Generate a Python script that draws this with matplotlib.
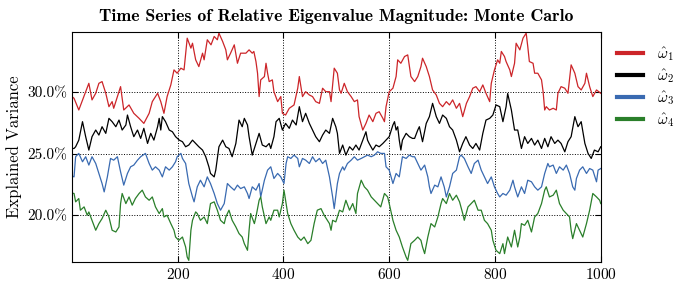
import numpy as np
import matplotlib
matplotlib.use('Agg')
import matplotlib.pyplot as plt
from matplotlib.ticker import FuncFormatter

plt.rcParams['font.family'] = ['cmr10', 'DejaVu Serif']
plt.rcParams['mathtext.fontset'] = 'cm'
plt.rcParams['axes.unicode_minus'] = False
plt.rcParams['axes.formatter.use_mathtext'] = True

# values (step, explained variance in percent)
t1 = [0, 4, 13, 32, 38, 45, 51, 57, 61, 64, 70, 76, 79, 86, 92, 98, 108, 117, 127, 136, 146, 152, 162,
      168, 174, 180, 187, 193, 199, 206, 212, 218, 225, 228, 234, 240, 247, 250, 256, 263, 269, 275, 278,
      285, 291, 294, 300, 307, 313, 319, 329, 335, 341, 344, 348, 351, 354, 357, 364, 367, 370, 373, 379,
      382, 389, 395, 398, 404, 411, 420, 427, 430, 436, 442, 449, 455, 461, 468, 474, 480, 487, 490, 496,
      502, 506, 509, 515, 521, 528, 534, 540, 543, 550, 556, 562, 569, 575, 581, 588, 591, 594, 600, 607,
      613, 616, 622, 629, 635, 641, 648, 654, 660, 663, 670, 676, 682, 689, 695, 701, 708, 714, 720, 727,
      733, 739, 746, 752, 758, 764, 771, 777, 783, 790, 793, 799, 805, 809, 812, 818, 821, 828, 831, 837,
      840, 847, 853, 859, 862, 865, 872, 875, 881, 888, 891, 894, 897, 903, 910, 916, 919, 925, 932, 938,
      944, 951, 957, 963, 970, 973, 979, 985, 992, 1000]
w1 = [29.65, 29.51, 28.56, 30.73, 29.38, 29.92, 30.73, 30.87, 30.33, 29.92, 28.83, 29.24, 28.70, 29.65,
      30.46, 28.56, 28.97, 28.29, 27.88, 27.47, 28.29, 29.24, 29.92,
      29.24, 28.29, 29.65, 30.60, 31.82, 31.55, 31.96, 31.82, 34.40, 33.59, 33.99, 32.64, 32.09, 33.18,
      32.64, 34.27, 33.86, 34.54, 34.27, 34.81, 34.13, 33.45, 32.64, 33.18, 33.86, 32.36, 33.18,
      33.18, 33.45, 33.18, 33.32, 32.50, 31.55, 29.65, 31.01, 31.28, 32.36, 31.55, 30.87, 31.01, 30.05,
      29.24, 29.65, 28.29, 28.15, 28.70, 28.97, 30.33, 31.28, 29.65, 30.05, 29.78, 29.65, 29.24, 29.10,
      30.33, 30.05,
      30.05, 29.24, 31.96, 31.55, 30.19, 29.92, 30.73, 30.05, 29.65, 29.24, 29.38, 28.02, 26.93, 27.47,
      28.15, 27.61, 28.29, 28.42, 27.88, 27.61, 28.83, 30.05, 30.33, 31.28, 32.64, 32.36, 32.91, 33.04,
      31.28,
      30.87, 31.28, 32.09, 32.77, 32.09, 31.28, 30.19, 29.78, 29.10, 28.83, 29.24, 28.97, 29.38, 28.70,
      29.10, 28.02, 29.10, 29.65, 30.33, 30.46, 30.05, 30.60, 29.92, 29.24, 30.73, 31.82, 32.64,
      32.36, 33.32, 32.91, 32.50, 31.82, 31.28, 32.36, 33.99, 33.45, 34.40, 34.81, 33.72, 32.50, 32.36,
      31.55, 31.55, 31.01, 30.05, 28.56, 28.83, 28.56, 28.70, 28.56, 29.92, 30.46, 30.33, 29.92, 32.23,
      31.55, 30.46, 30.19, 30.73, 31.55, 30.46, 29.65, 30.19, 29.92]

t2 = [0, 4, 7, 13, 20, 26, 32, 38, 45, 51, 57, 64, 70, 76, 83, 89, 95, 102, 105, 111, 117, 124, 130, 136,
      143, 149, 155, 162, 165, 168, 171, 177, 184, 190, 196, 203, 209, 215, 221, 228, 234, 240, 247, 253,
      259, 262, 269, 272, 278, 285, 291, 297, 303, 310, 316, 322, 326, 332, 335, 341, 348, 354, 360, 367,
      373, 376, 382, 386, 392, 398, 404, 411, 417, 424, 430, 436, 442, 449, 455, 461, 468, 474, 480, 487,
      493, 499, 502, 506, 512, 518, 525, 531, 537, 543, 550, 556, 559, 562, 569, 575, 581, 588, 594, 600,
      607, 610, 613, 616, 619, 622, 625, 632, 638, 644, 648, 654, 657, 663, 670, 676, 682, 689, 695, 701,
      708, 714, 720, 727, 733, 739, 745, 752, 758, 764, 771, 777, 783, 790, 796, 802, 809, 815, 821, 824,
      831, 837, 843, 850, 856, 862, 869, 875, 881, 888, 894, 900, 906, 913, 919, 925, 932, 938, 944, 951,
      957, 963, 970, 976, 982, 988, 995, 1000]
w2 = [25.43, 25.43, 25.57, 26.11, 27.61, 26.39, 25.30, 26.39, 26.93, 26.52, 27.20, 26.66, 27.88, 27.61,
      27.20, 27.74, 26.93, 27.34, 28.15, 27.20, 26.39, 26.93, 26.25, 27.07, 25.84, 26.66, 26.11, 27.20,
      27.88, 26.93, 28.02, 27.61, 26.93, 26.79, 26.39, 26.11, 25.98, 25.57, 25.71, 26.11, 25.84, 25.57,
      25.30, 24.76, 23.94, 23.40, 23.12, 23.67, 25.57, 26.11, 25.57, 25.43, 24.76, 25.84, 27.74, 27.20,
      27.88, 27.34, 26.39, 24.89, 25.84, 26.66, 25.71, 25.57, 25.84, 25.43, 26.39, 27.61, 27.88, 26.93,
      27.47, 27.07, 27.74, 27.34, 28.83, 27.61, 28.29, 27.47, 26.93, 26.39, 25.98, 26.52, 26.93,
      26.66, 27.88, 27.20, 26.66, 25.03, 25.71, 24.89, 25.57, 25.30, 25.71, 25.30, 26.11, 26.79, 26.11,
      25.84, 25.30, 25.71, 25.57, 25.84, 26.11, 26.39, 27.34, 27.61, 26.93, 27.20, 26.11, 25.30, 26.11,
      26.66, 26.39, 26.25,
      26.25, 26.93, 27.20, 25.98, 27.47, 28.02, 29.10, 28.02, 27.47, 28.15, 27.88, 27.20, 26.93, 26.11,
      25.16, 25.84, 26.39, 25.71, 25.43, 25.84, 25.30, 26.66, 27.74, 27.88, 28.15, 28.97, 28.83,
      27.61, 28.83, 29.90, 28.56, 26.93, 26.93, 25.43, 26.39, 25.84, 26.25, 25.71, 26.11, 25.43, 26.25,
      25.57, 26.39, 25.84, 26.11, 25.84, 25.16, 25.98, 26.39, 28.02, 27.20, 27.61, 25.84, 25.03, 24.62,
      25.30, 25.16, 25.57]

t3 = [0, 4, 7, 13, 20, 26, 32, 38, 45, 51, 57, 61, 67, 73, 79, 86, 92, 98, 105, 111, 117, 124, 130, 139,
      146, 152, 158, 165, 171, 177, 184, 190, 196, 199, 206, 209, 215, 221, 228, 231, 237, 243, 250, 256,
      262, 269, 275, 281, 288, 294, 300, 307, 313, 319, 326, 332, 335, 341, 348, 354, 357, 364, 370, 376,
      382, 389, 395, 401, 405, 408, 414, 420, 427, 430, 436, 442, 449, 455, 461, 468, 474, 480, 487, 490,
      493, 496, 502, 506, 512, 515, 521, 528, 534, 540, 547, 553, 559, 566, 572, 578, 584, 591, 594, 600,
      607, 613, 619, 625, 632, 638, 644, 648, 654, 660, 667, 673, 676, 679, 686, 692, 698, 704, 708, 714,
      720, 727, 733, 736, 742, 749, 755, 761, 768, 774, 780, 786, 793, 799, 805, 809, 815, 821, 828, 834,
      837, 843, 850, 856, 862, 869, 875, 881, 888, 894, 900, 903, 910, 916, 922, 929, 935, 941, 947, 951,
      954, 960, 966, 973, 979, 985, 992, 995, 1000]
w3 = [23.20, 23.12, 24.76, 25.03, 24.35, 24.76, 24.08, 24.76, 24.21, 23.40, 22.58, 21.90, 23.12, 24.62,
      24.48, 24.76, 23.53, 22.45, 23.40, 23.94, 24.08, 24.48, 24.76, 25.03, 24.21, 23.67, 23.94,
      23.67, 23.12, 23.94, 23.67, 23.94, 24.35, 24.76, 25.03, 24.62, 24.21, 22.58, 21.49, 21.09, 22.31,
      22.85, 22.31, 23.12, 22.58, 21.77, 20.95, 20.41, 20.95, 22.58, 22.31, 22.04, 22.45, 22.17, 22.31,
      21.77, 21.36, 22.31, 22.04, 22.58, 21.49, 22.85, 23.67, 23.94, 22.99, 23.40, 23.12, 22.58, 24.21,
      24.76, 24.62, 24.89, 24.62, 23.94, 24.62, 24.48, 24.21, 24.76, 24.35, 24.62, 24.21, 24.48, 23.12,
      22.31, 21.49, 20.54, 22.58, 23.40, 23.94, 23.67, 24.21, 24.48, 24.76, 24.48, 24.62, 24.76, 24.89,
      24.76, 24.89, 25.16, 25.03, 25.03, 23.94, 23.67, 22.58, 23.40, 23.12, 24.76, 24.62, 24.89, 24.76,
      24.76, 24.21, 23.67, 24.08, 23.12, 22.31, 21.77, 22.45, 22.31, 23.12, 22.31, 21.49, 22.31, 23.40,
      23.67, 24.76, 24.89, 24.62, 23.94, 23.40, 24.21, 24.48, 23.67, 23.12, 22.58, 23.12, 22.31, 21.77,
      21.49, 21.77, 21.63, 22.04, 22.85, 22.31, 21.49, 22.31, 21.77, 22.85, 22.72, 22.31, 22.04, 22.31,
      23.40, 24.21, 23.94, 24.08, 23.40, 23.94, 23.67, 24.08, 23.40, 22.31, 22.04, 22.99, 23.67, 23.94,
      23.40, 23.80, 23.67, 22.72, 23.67, 23.80]

t4 = [0, 4, 7, 13, 16, 23, 29, 32, 38, 45, 51, 57, 64, 70, 76, 83, 89, 92, 95, 102, 108, 114, 120, 127,
      133, 139, 146, 152, 158, 165, 171, 174, 180, 187, 193, 196, 202, 209, 215, 218, 221, 225, 228, 234,
      237, 243, 250, 256, 262, 269, 275, 281, 288, 291, 297, 303, 310, 316, 322, 326, 332, 335, 338, 345,
      348, 354, 357, 360, 367, 373, 376, 382, 389, 392, 398, 401, 408, 414, 420, 427, 433, 439, 446, 452,
      458, 464, 471, 477, 483, 487, 490, 493, 499, 506, 512, 518, 525, 531, 537, 540, 547, 553, 559, 566,
      572, 578, 584, 591, 597, 600, 607, 613, 619, 625, 632, 635, 641, 648, 654, 660, 663, 667, 673, 679,
      686, 692, 698, 701, 708, 714, 720, 727, 733, 739, 742, 749, 755, 761, 768, 774, 780, 786, 793, 796,
      802, 809, 815, 818, 824, 831, 837, 843, 847, 850, 856, 862, 869, 875, 881, 888, 894, 897, 903, 910,
      916, 922, 929, 935, 941, 944, 947, 954, 960, 966, 973, 979, 985, 992, 998, 1000]
w4 = [21.80, 21.77, 21.09, 21.36, 20.41, 20.68, 20.00, 20.27, 19.59, 18.78, 19.32, 19.73, 20.41, 19.86,
      18.78, 18.64, 19.05, 20.95, 21.77, 20.95, 21.49, 20.82, 21.36, 21.77, 22.04, 21.49, 21.22, 21.49,
      20.68, 20.14, 20.54, 19.86, 20.00, 19.32, 18.78, 18.23, 17.96, 18.23, 17.42, 16.60, 16.33, 18.78,
      19.59, 20.27, 20.14, 19.59, 19.86, 19.32, 20.95, 21.09, 20.41, 19.59, 19.32, 19.86, 20.41, 19.59,
      19.05, 18.51, 18.23, 17.69, 17.15, 18.78, 20.14, 19.32, 19.86, 21.22, 21.49, 20.68, 19.32, 19.86,
      19.59, 20.41, 20.41, 19.86, 20.95, 22.04, 20.14, 19.32, 18.78, 18.23, 17.96, 18.23, 17.69, 17.96,
      19.32, 20.41, 20.54, 20.00, 19.59, 19.32, 18.78, 19.59, 19.46, 20.41, 20.27, 21.22, 20.41, 20.95,
      20.14, 21.77, 22.85, 22.31, 22.04, 21.49, 21.22, 20.95, 20.68, 21.77, 21.49, 20.95, 19.59, 18.78,
      18.23, 17.42, 16.60, 16.33, 17.69, 17.96, 18.23, 17.96, 17.42, 16.88, 18.23, 19.32, 19.05, 19.86,
      20.95, 21.36, 20.95, 21.77, 21.22, 21.63, 21.09, 20.14, 19.59, 20.68, 20.95, 21.22, 20.41, 20.41,
      19.59, 19.32, 18.78, 17.96, 17.15, 16.88, 17.69, 16.88, 18.23, 17.42, 18.78, 17.42, 18.23, 19.32,
      19.18, 19.59, 18.64, 19.86, 20.14, 20.95, 22.04, 22.31, 21.49, 21.63, 22.04, 20.95, 20.41, 20.14,
      19.86, 18.78, 18.10, 19.32, 18.78, 18.23, 19.32, 20.41, 21.77, 21.49, 21.22, 20.95]

labels = [r'$\hat{\omega}_1$', r'$\hat{\omega}_2$', r'$\hat{\omega}_3$', r'$\hat{\omega}_4$']
colors = ['#cc2529', '#000000', '#396ab1', '#2a7f2a']

fig = plt.figure(figsize=(6.85, 2.86), dpi=100)
ax = fig.add_axes([0.105, 0.084, 0.772, 0.804])

for t, s, lab, c in zip([t1, t2, t3, t4], [w1, w2, w3, w4], labels, colors):
    ax.plot(t, s, color=c, lw=0.9, label=lab)

ax.set_xlim(0, 1000)
ax.set_ylim(16.2, 34.9)
ax.set_xticks([200, 400, 600, 800, 1000])
ax.set_yticks([20, 25, 30])
ax.yaxis.set_major_formatter(FuncFormatter(lambda v, p: '%.1f%%' % v))
ax.tick_params(direction='in', top=True, right=True, labelsize=11, length=4)
ax.grid(True, linestyle=':', color='black', lw=0.7)
ax.set_ylabel('Explained Variance', fontsize=12)
ax.set_title('Time Series of Relative Eigenvalue Magnitude: Monte Carlo',
             fontsize=12.8, fontfamily='cmb10', pad=8)

leg = ax.legend(loc='upper left', bbox_to_anchor=(1.019, 0.97), frameon=False,
                fontsize=11, handlelength=1.7, handletextpad=0.9,
                labelspacing=0.27, borderaxespad=0)
for l in leg.get_lines():
    l.set_linewidth(3)

fig.savefig('out.png', dpi=100)
